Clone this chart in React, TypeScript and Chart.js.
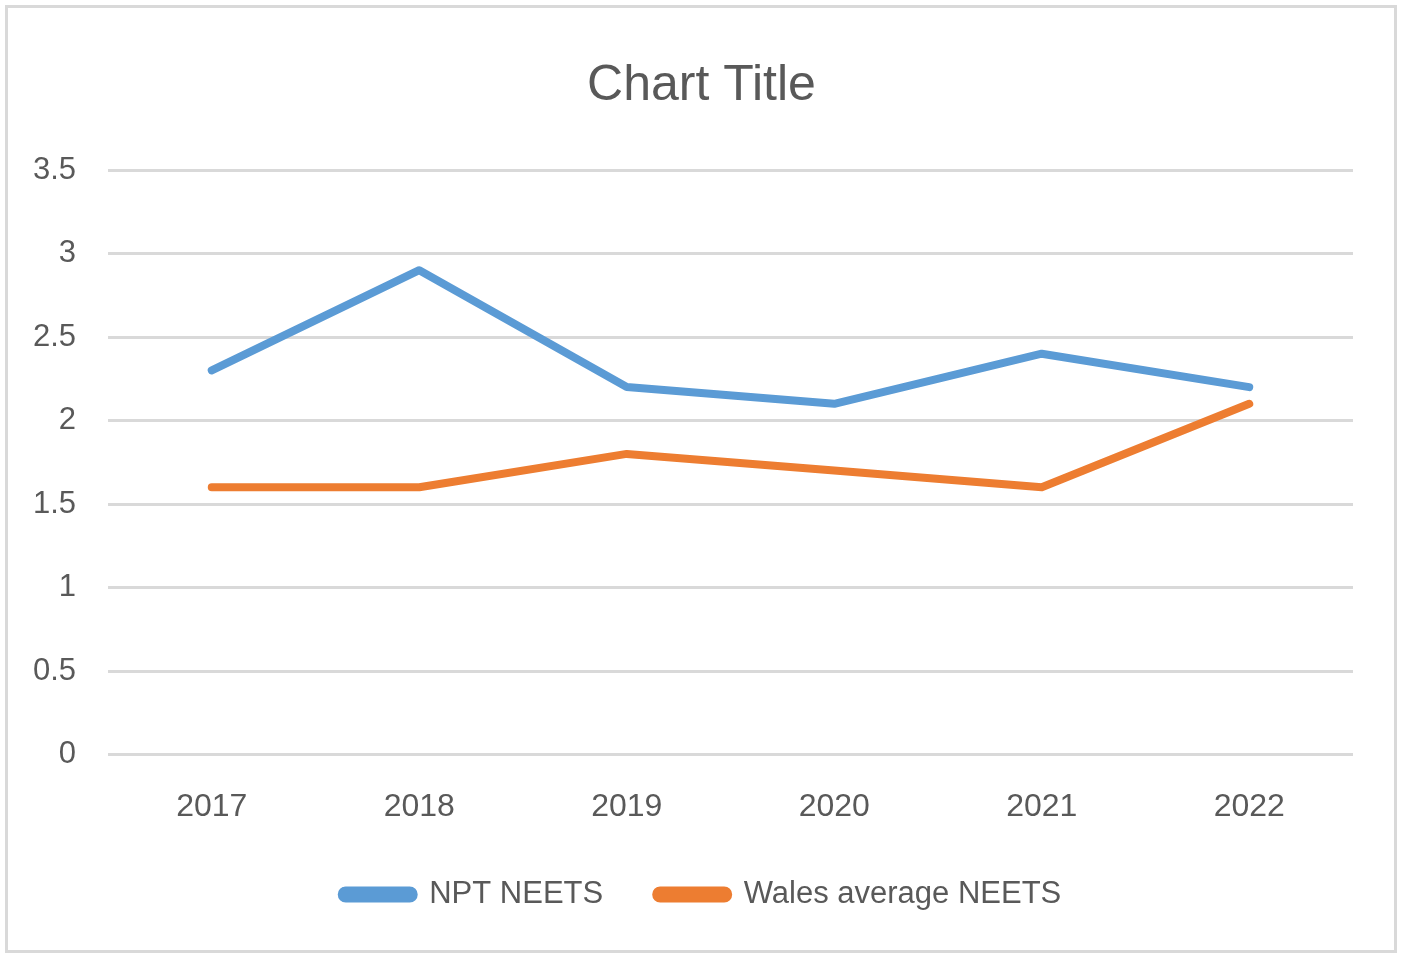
import React, { useEffect, useRef } from "react";
import { Chart, registerables } from "chart.js";

Chart.register(...registerables);

const years = ["2017", "2018", "2019", "2020", "2021", "2022"];
const nptNeets = [2.3, 2.9, 2.2, 2.1, 2.4, 2.2];
const walesNeets = [1.6, 1.6, 1.8, 1.7, 1.6, 2.1];
const yMin = 0;
const yMax = 3.5;
const yStep = 0.5;

const FONT = "'Liberation Sans', Arial, sans-serif";
const TEXT = "#595959";
const GRID = "#D9D9D9";

export default function App() {
  const ref = useRef<HTMLCanvasElement | null>(null);

  useEffect(() => {
    if (!ref.current) return;
    const chart = new Chart(ref.current, {
      type: "line",
      data: {
        labels: years,
        datasets: [
          {
            label: "NPT NEETS",
            data: nptNeets,
            borderColor: "#5B9BD5",
            backgroundColor: "#5B9BD5",
            borderWidth: 8,
            borderCapStyle: "round",
            borderJoinStyle: "round",
            pointRadius: 0,
            tension: 0,
            yAxisID: "y",
          },
          {
            label: "Wales average NEETS",
            data: walesNeets,
            borderColor: "#ED7D31",
            backgroundColor: "#ED7D31",
            borderWidth: 8,
            borderCapStyle: "round",
            borderJoinStyle: "round",
            pointRadius: 0,
            tension: 0,
            yAxisID: "y",
          },
        ],
      },
      options: {
        animation: false,
        responsive: false,
        devicePixelRatio: 1,
        layout: { padding: { left: 0, right: 0, top: 0, bottom: 36 } },
        plugins: {
          title: {
            display: true,
            text: "Chart Title",
            color: TEXT,
            font: { family: FONT, size: 50, weight: "normal" },
            padding: { top: 56, bottom: 54 },
          },
          legend: {
            display: true,
            position: "bottom",
            labels: {
              color: TEXT,
              font: { family: FONT, size: 31 },
              boxWidth: 72,
              boxHeight: 8,
              useBorderRadius: true,
              borderRadius: 4,
              padding: 53,
            },
          },
          tooltip: { enabled: false },
        },
        scales: {
          x: {
            type: "category",
            offset: true,
            grid: { display: false, drawTicks: false },
            border: { display: false },
            ticks: {
              color: TEXT,
              font: { family: FONT, size: 32 },
              padding: 33,
              maxRotation: 0,
            },
            afterFit: (scale: any) => {
              scale.height = 71.5;
            },
          },
          y: {
            position: "left",
            min: yMin,
            max: yMax,
            grid: { color: GRID, lineWidth: 3, drawTicks: false },
            border: { display: false },
            ticks: {
              stepSize: yStep,
              color: TEXT,
              font: { family: FONT, size: 31 },
              padding: 32,
              callback: (v: any) => String(v),
            },
            afterFit: (scale: any) => {
              scale.width = 108;
            },
          },
          yRight: {
            position: "right",
            display: true,
            grid: { display: false, drawTicks: false },
            border: { display: false },
            ticks: { display: false },
            afterFit: (scale: any) => {
              scale.width = 50;
            },
          },
        },
      },
    });
    return () => chart.destroy();
  }, []);

  return (
    <div style={{ position: "absolute", left: 0, top: 0, width: 1403, height: 956, background: "#fff" }}>
      <div
        style={{
          position: "absolute",
          left: 5,
          top: 5,
          width: 1386,
          height: 942,
          border: "3px solid #D9D9D9",
        }}
      />
      <canvas ref={ref} width={1403} height={956} style={{ position: "absolute", left: 0, top: 0 }} />
    </div>
  );
}
